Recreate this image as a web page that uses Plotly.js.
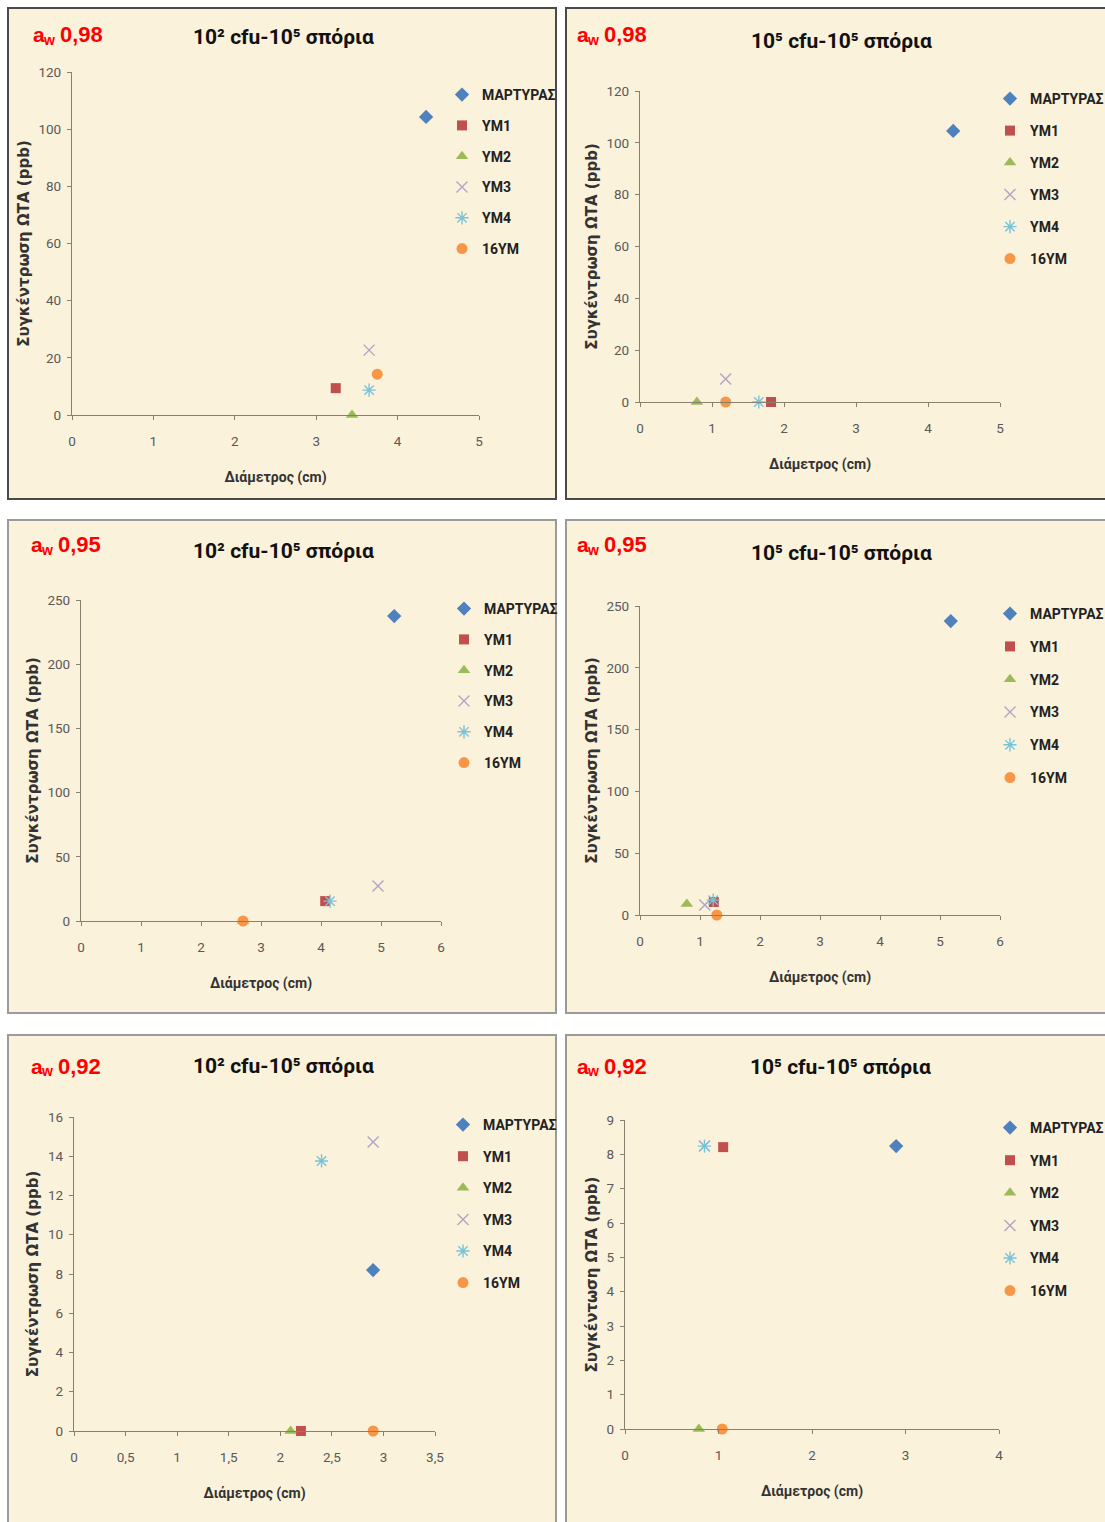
<!DOCTYPE html>
<html>
<head>
<meta charset="utf-8">
<script src="https://cdn.plot.ly/plotly-3.0.1.min.js"></script>
<style>
  html, body { margin: 0; padding: 0; background: #ffffff; overflow: hidden; }
  #chart { width: 1105px; height: 1522px; }
</style>
</head>
<body>
<div id="chart"></div>
<script>
// ---- DATA ----
const seriesNames = ['ΜΑΡΤΥΡΑΣ', 'ΥΜ1', 'ΥΜ2', 'ΥΜ3', 'ΥΜ4', '16ΥΜ'];

const panelTitles = [
  '10² cfu-10⁵ σπόρια',
  '10⁵ cfu-10⁵ σπόρια',
  '10² cfu-10⁵ σπόρια',
  '10⁵ cfu-10⁵ σπόρια',
  '10² cfu-10⁵ σπόρια',
  '10⁵ cfu-10⁵ σπόρια'
];
const awValues = ['0,98', '0,98', '0,95', '0,95', '0,92', '0,92'];
const xTitle = 'Διάμετρος (cm)';
const yTitles = [
  'Συγκέντρωση ΩΤΑ (ppb)', 'Συγκέντρωση ΩΤΑ (ppb)',
  'Συγκέντρωση ΩΤΑ (ppb)', 'Συγκέντρωση ΩΤΑ (ppb)',
  'Συγκέντρωση ΩΤΑ (ppb)', 'Συγκέντωση ΩΤΑ (ppb)'
];

// panel 1: aw 0.98, 10^2 cfu
const p1X = [4.35, 3.24, 3.44, 3.65, 3.65, 3.75];
const p1Y = [104.3, 9.4, 0, 22.7, 8.7, 14.3];
// panel 2: aw 0.98, 10^5 cfu
const p2X = [4.35, 1.82, 0.79, 1.19, 1.65, 1.19];
const p2Y = [104.6, 0, 0, 8.9, 0, 0];
// panel 3: aw 0.95, 10^2 cfu
const p3X = [5.22, 4.07, 2.70, 4.95, 4.15, 2.70];
const p3Y = [237.5, 15.5, 0, 27.3, 15.5, 0];
// panel 4: aw 0.95, 10^5 cfu
const p4X = [5.18, 1.23, 0.78, 1.08, 1.22, 1.28];
const p4Y = [237.8, 10.5, 9, 8, 12, 0];
// panel 5: aw 0.92, 10^2 cfu
const p5X = [2.90, 2.20, 2.10, 2.90, 2.40, 2.90];
const p5Y = [8.2, 0, 0, 14.73, 13.76, 0];
// panel 6: aw 0.92, 10^5 cfu
const p6X = [2.90, 1.05, 0.79, 0.85, 0.85, 1.04];
const p6Y = [8.24, 8.21, 0, 8.24, 8.24, 0];

const xRanges = [[0, 5], [0, 5], [0, 6], [0, 6], [0, 3.5], [0, 4]];
const xDticks = [1, 1, 1, 1, 0.5, 1];
const yRanges = [[0, 120], [0, 120], [0, 250], [0, 250], [0, 16], [0, 9]];
const yDticks = [20, 20, 50, 50, 2, 1];

// ---- STYLE ----
const W = 1105, H = 1522;
const px = v => v / W;
const py = v => 1 - v / H;

const markerStyles = [
  { symbol: 'diamond', color: '#4F81BD', size: 11, line: { width: 0 } },
  { symbol: 'square', color: '#C0504D', size: 10, line: { width: 0 } },
  { symbol: 'triangle-up', color: '#9BBB59', size: 11, line: { width: 0 } },
  { symbol: 'x-thin-open', color: '#B0A4C4', size: 11, line: { width: 1.4, color: '#B0A4C4' } },
  { symbol: 'asterisk-open', color: '#79C3D6', size: 11, line: { width: 1.4, color: '#79C3D6' } },
  { symbol: 'circle', color: '#F79646', size: 11, line: { width: 0 } }
];

const panelData = [[p1X, p1Y], [p2X, p2Y], [p3X, p3Y], [p4X, p4Y], [p5X, p5Y], [p6X, p6Y]];

// plot-area pixel boxes [left, right, top(y max), bottom(y=0)]
const plotBoxes = [
  [72, 479, 72, 415],
  [640, 1000, 91, 402],
  [81, 441, 600, 921],
  [640, 1000, 606, 915],
  [74, 435, 1117, 1431],
  [625, 999, 1120, 1429]
];
// panel frames [x0, y0, x1, y1, border color]
const frames = [
  [8, 8, 556, 499, '#4a4a4a'],
  [566, 8, 1112, 499, '#4a4a4a'],
  [8, 520, 556, 1013, '#9a9a9a'],
  [566, 520, 1112, 1013, '#9a9a9a'],
  [8, 1035, 556, 1530, '#9a9a9a'],
  [566, 1035, 1112, 1530, '#9a9a9a']
];
const titlePos = [[283, 37], [841, 41], [283, 551], [841, 553], [283, 1066], [840, 1067]];
const awPos = [[33, 36], [577, 36], [31, 546], [577, 546], [31, 1067], [577, 1067]];
const legendPos = [[442, 79], [990, 83], [444, 593], [990, 598], [443, 1109], [990, 1112]];
const legendGaps = [9.6, 10.8, 9.6, 11.6, 10.4, 11.4];

const narrow = 'Roboto, "Liberation Sans", sans-serif';
const sans = '"Liberation Sans", Arial, sans-serif';
const wide = '"DejaVu Sans", Verdana, sans-serif';

const traces = [];
const layout = {
  width: W, height: H,
  margin: { l: 0, r: 0, t: 0, b: 0, autoexpand: false },
  paper_bgcolor: '#ffffff',
  plot_bgcolor: 'rgba(0,0,0,0)',
  separators: ',.',
  showlegend: true,
  shapes: [],
  annotations: []
};

for (let p = 0; p < 6; p++) {
  const suf = p === 0 ? '' : String(p + 1);
  const legendName = 'legend' + suf;
  const [xs, ys] = panelData[p];
  for (let s = 0; s < seriesNames.length; s++) {
    traces.push({
      type: 'scatter',
      mode: 'markers',
      name: seriesNames[s],
      x: [xs[s]],
      y: [ys[s]],
      xaxis: 'x' + suf,
      yaxis: 'y' + suf,
      legend: legendName,
      legendgroup: 'p' + p + 's' + s,
      cliponaxis: false,
      marker: markerStyles[s],
      hoverinfo: 'x+y+name'
    });
  }
  const b = plotBoxes[p];
  const axisLineColor = '#8a7f6e';
  layout['xaxis' + suf] = {
    domain: [px(b[0]), px(b[1])],
    anchor: 'y' + suf,
    range: xRanges[p],
    dtick: xDticks[p],
    tick0: 0,
    showgrid: false,
    zeroline: false,
    showline: true,
    linecolor: axisLineColor,
    linewidth: 1.3,
    ticks: 'outside',
    ticklen: 4,
    tickcolor: axisLineColor,
    ticklabelstandoff: 10,
    tickfont: { family: narrow, size: 13.5, color: '#595959' },
    automargin: false,
    fixedrange: true,
    title: { text: xTitle, font: { family: narrow, size: 14, color: '#333333', weight: 'bold' }, standoff: 23 }
  };
  layout['yaxis' + suf] = {
    domain: [py(b[3]), py(b[2])],
    anchor: 'x' + suf,
    range: yRanges[p],
    dtick: yDticks[p],
    tick0: 0,
    showgrid: false,
    zeroline: false,
    showline: true,
    linecolor: axisLineColor,
    linewidth: 1.3,
    ticks: 'outside',
    ticklen: 4,
    tickcolor: axisLineColor,
    ticklabelstandoff: 3,
    tickfont: { family: narrow, size: 13.5, color: '#595959' },
    automargin: false,
    fixedrange: true,
    title: { text: yTitles[p], font: { family: wide, size: 15, color: '#333333', weight: 'bold' }, standoff: 5 }
  };
  layout[legendName] = {
    x: px(legendPos[p][0]),
    y: py(legendPos[p][1]),
    xanchor: 'left',
    yanchor: 'top',
    bgcolor: 'rgba(0,0,0,0)',
    borderwidth: 0,
    traceorder: 'grouped',
    tracegroupgap: legendGaps[p],
    itemwidth: 30,
    itemclick: false,
    itemdoubleclick: false,
    font: { family: narrow, size: 14, color: '#222222', weight: 'bold' }
  };
  const f = frames[p];
  layout.shapes.push({
    type: 'rect', xref: 'paper', yref: 'paper', layer: 'below',
    x0: px(f[0]), x1: px(f[2]), y0: py(f[3]), y1: py(f[1]),
    fillcolor: '#FBF2DC',
    line: { color: f[4], width: 2 }
  });
  layout.annotations.push({
    xref: 'paper', yref: 'paper',
    x: px(titlePos[p][0]), y: py(titlePos[p][1]),
    xanchor: 'center', yanchor: 'middle',
    showarrow: false,
    text: panelTitles[p],
    font: { family: narrow, size: 21, color: '#111111', weight: 'bold' }
  });
  // water-activity label: "a" + subscript "w" + value
  const [ax, ay] = awPos[p];
  const redFont = sz => ({ family: sans, size: sz, color: '#FF0000', weight: 'bold' });
  layout.annotations.push({
    xref: 'paper', yref: 'paper', x: px(ax - 2), y: py(ay - 1),
    xanchor: 'left', yanchor: 'middle', showarrow: false,
    text: 'a', font: redFont(21)
  });
  layout.annotations.push({
    xref: 'paper', yref: 'paper', x: px(ax + 8), y: py(ay + 4),
    xanchor: 'left', yanchor: 'middle', showarrow: false,
    text: 'w', font: redFont(14)
  });
  layout.annotations.push({
    xref: 'paper', yref: 'paper', x: px(ax + 25), y: py(ay - 1),
    xanchor: 'left', yanchor: 'middle', showarrow: false,
    text: awValues[p], font: redFont(22)
  });
}

Plotly.newPlot('chart', traces, layout, { displayModeBar: false });
</script>
</body>
</html>
